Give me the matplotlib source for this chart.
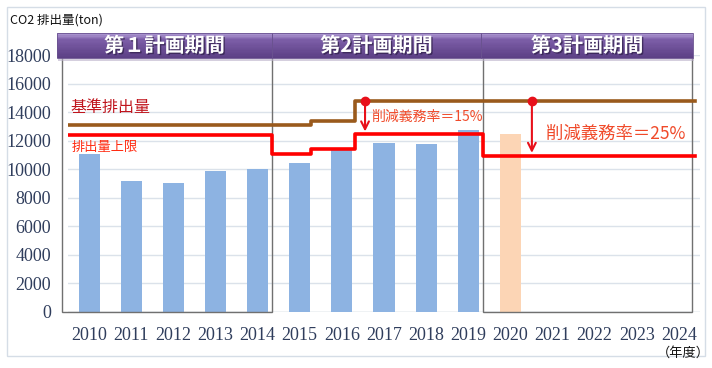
import matplotlib.pyplot as plt
from matplotlib.patches import Rectangle
import matplotlib.patheffects as pe
import numpy as np

plt.rcParams['font.family'] = ['Noto Sans CJK JP', 'DejaVu Sans']

# data
years = [str(y) for y in range(2010, 2025)]
emissions = [11100, 9200, 9050, 9900, 10000, 10450, 11500, 11850, 11750, 12750]
forecast = {10: 12450}   # 2020 (peach bar)

# step lines (x in category units, steps-post)
step_x = [-0.64, 4.34, 5.27, 6.31, 9.34, 14.38]
limit_y = [12400, 11100, 11400, 12500, 10900, 10900]      # 排出量上限
base_y = [13100, 13100, 13400, 14800, 14800, 14800]        # 基準排出量

periods = ['第１計画期間', '第2計画期間', '第3計画期間']
period_x = [(-0.76, 4.34), (4.34, 9.30), (9.30, 14.34)]
boxes = [(-0.64, 4.34), (9.34, 14.31)]

fig = plt.figure(figsize=(7.12, 3.68), dpi=100)
ax = fig.add_axes([68 / 712, 1 - 312 / 368, 632 / 712, 257 / 368])

# outer chart border
fig.patches.append(Rectangle((7 / 712, 1 - 356 / 368), 698 / 712, 349 / 368,
                             transform=fig.transFigure, fill=False,
                             edgecolor='#d5dde6', linewidth=1))

x = np.arange(len(years))
ax.bar(x[:len(emissions)], emissions, width=0.5, color='#8db3e2', zorder=2)
ax.bar(list(forecast.keys()), list(forecast.values()), width=0.5, color='#fcd5b5', zorder=2)

ax.plot(step_x, base_y, drawstyle='steps-post', color='#9a5a1c', lw=2.6, zorder=4)
ax.plot(step_x, limit_y, drawstyle='steps-post', color='#ff0000', lw=2.6, zorder=4)

# period boxes
for x0, x1 in boxes:
    ax.add_patch(Rectangle((x0, 0), x1 - x0, 18000, fill=False, edgecolor='#707070',
                           lw=1, zorder=3, clip_on=False))

# period headers with vertical gradient
tr = ax.get_xaxis_transform()
y_bot, y_top = 0.988, 1.086
top_c = np.array([0.70, 0.62, 0.84])
mid_c = np.array([0.49, 0.37, 0.66])
bot_c = np.array([0.36, 0.25, 0.52])
n = 20
for (x0, x1), label in zip(period_x, periods):
    ax.add_patch(Rectangle((x0 + 0.02, y_bot - 0.012), x1 - x0, y_top - y_bot, transform=tr,
                           color='#b9b0c8', alpha=0.6, lw=0, clip_on=False, zorder=5))
    for i in range(n):
        f = i / (n - 1)
        if f < 0.25:
            c = top_c + (mid_c - top_c) * (f / 0.25)
        else:
            c = mid_c + (bot_c - mid_c) * ((f - 0.25) / 0.75)
        h = (y_top - y_bot) / n
        ax.add_patch(Rectangle((x0, y_top - (i + 1) * h), x1 - x0, h * 1.05, transform=tr,
                               color=c, lw=0, clip_on=False, zorder=6))
    ax.add_patch(Rectangle((x0, y_bot), x1 - x0, y_top - y_bot, transform=tr, fill=False,
                           edgecolor='#6a5290', lw=0.6, clip_on=False, zorder=7))
    ax.text((x0 + x1) / 2, (y_bot + y_top) / 2, label, transform=tr, ha='center', va='center',
            color='white', fontsize=14.5, fontweight='bold', zorder=8, clip_on=False,
            path_effects=[pe.withSimplePatchShadow(offset=(1, -1), shadow_rgbFace='#2e1f48', alpha=0.7)])

# labels on lines
ax.text(-0.45, 14300, '基準排出量', color='#c0141c', fontsize=11.5, va='center', zorder=5)
ax.text(-0.42, 11500, '排出量上限', color='#ff2a10', fontsize=9.5, va='center', zorder=5)

# reduction arrows
ann = [(6.55, 14800, 12450, '削減義務率＝15%', 6.7, 13670, 10),
       (10.51, 14800, 10950, '削減義務率＝25%', 10.85, 12500, 12.5)]
for ax_x, y0, y1, txt, tx, ty, fs in ann:
    ax.annotate('', xy=(ax_x, y1), xytext=(ax_x, y0),
                arrowprops=dict(arrowstyle='->', color='#e8101a', lw=1.5, mutation_scale=14),
                zorder=6)
    ax.plot([ax_x], [y0], 'o', color='#e8101a', ms=6, zorder=7)
    ax.text(tx, ty, txt, color='#f04a2a', fontsize=fs, va='center', zorder=6)

ax.set_xlim(-0.5, 14.5)
ax.set_ylim(0, 18000)
ax.set_yticks(range(0, 18001, 2000))
ax.set_xticks(x)
ax.set_xticklabels(years)
ax.yaxis.grid(True, color='#dbe2ea', lw=1, zorder=0)
ax.set_axisbelow(True)
for s in ax.spines.values():
    s.set_visible(False)
ax.axhline(0, color='#d0d7e0', lw=1, zorder=1)
ax.tick_params(length=0, labelsize=13, labelcolor='#2f3d5c')
ax.tick_params(axis='x', pad=11)
ax.tick_params(axis='y', pad=12)
for t in ax.get_xticklabels() + ax.get_yticklabels():
    t.set_family('Liberation Serif')

fig.text(10 / 712, 1 - 20 / 368, 'CO2 排出量(ton)', fontsize=9, va='center', color='#111111')
fig.text(683 / 712, 1 - 353 / 368, '（年度）', fontsize=9.5, va='center', ha='center', color='#111111')

fig.savefig('out.png', dpi=100)
